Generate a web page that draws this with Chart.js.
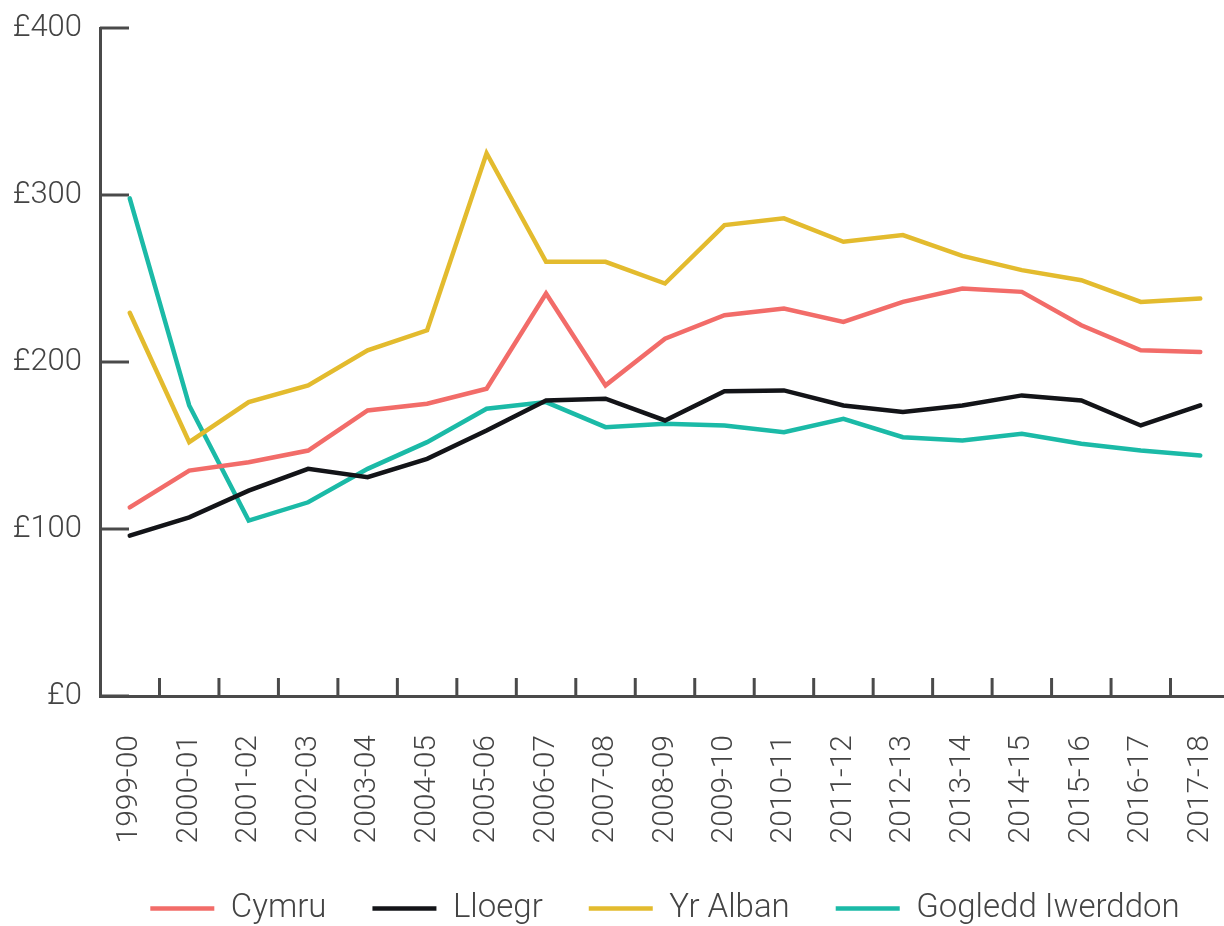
<!DOCTYPE html>
<html>
<head>
<meta charset="utf-8">
<script src="https://cdn.jsdelivr.net/npm/chart.js@4/dist/chart.umd.min.js"></script>
<style>
    html, body {
        margin: 0;
        padding: 0;
        background: #fff;
        overflow: hidden;
    }
</style>
</head>
<body>
<canvas id="chart" width="1230" height="935"></canvas>
<script>
    const categories = [
        '1999-00', '2000-01', '2001-02', '2002-03', '2003-04', '2004-05', '2005-06',
        '2006-07', '2007-08', '2008-09', '2009-10', '2010-11', '2011-12', '2012-13',
        '2013-14', '2014-15', '2015-16', '2016-17', '2017-18',
    ];

    const cymru = [113, 135, 140, 147, 171, 175, 184, 241, 186, 214, 228, 232, 224, 236, 244, 242, 222, 207, 206];
    const lloegr = [96, 107, 123, 136, 131, 142, 159, 177, 178, 165, 182.5, 183, 174, 170, 174, 180, 177, 162, 174];
    const yrAlban = [229.5, 152, 176, 186, 207, 219, 325, 260, 260, 247, 282, 286, 272, 276, 263.5, 255, 249, 236, 238];
    const gogleddIwerddon = [298, 174, 105, 116, 136, 152, 172, 176, 161, 163, 162, 158, 166, 155, 153, 157, 151, 147, 144];

    const yTicks = [0, 100, 200, 300, 400];

    const axisColor = '#4a4a4a';
    const textColor = '#444';
    const fontFamily = 'Roboto, "Open Sans", "Liberation Sans", sans-serif';

    // short tick marks drawn inward from both axes
    const axisTicks = {
        id: 'axisTicks',
        beforeDatasetsDraw(chart) {
            const {ctx, chartArea, scales} = chart;
            const x = scales.x;
            const y = scales.y;

            ctx.save();
            ctx.strokeStyle = axisColor;
            ctx.lineWidth = 3;

            yTicks.forEach((value) => {
                const py = y.getPixelForValue(value);
                ctx.beginPath();
                ctx.moveTo(chartArea.left, py);
                ctx.lineTo(chartArea.left + 29, py);
                ctx.stroke();
            });

            for (let i = 1; i < categories.length; i++) {
                const px = (x.getPixelForValue(i - 1) + x.getPixelForValue(i)) / 2;
                ctx.beginPath();
                ctx.moveTo(px, chartArea.bottom);
                ctx.lineTo(px, chartArea.bottom - 18);
                ctx.stroke();
            }

            ctx.restore();
        },
    };

    function series(label, data, color) {
        return {
            label,
            data,
            borderColor: color,
            backgroundColor: color,
            borderWidth: 4.5,
            borderCapStyle: 'round',
            pointRadius: 0,
            pointHoverRadius: 0,
            tension: 0,
        };
    }

    new Chart(document.getElementById('chart'), {
        type: 'line',
        data: {
            labels: categories,
            datasets: [
                series('Cymru', cymru, '#f26c69'),
                series('Lloegr', lloegr, '#131418'),
                series('Yr Alban', yrAlban, '#e3bb2e'),
                series('Gogledd Iwerddon', gogleddIwerddon, '#1bbaa7'),
            ],
        },
        options: {
            responsive: false,
            animation: false,
            layout: {
                padding: {top: 28, left: 0, right: 0, bottom: 0},
            },
            scales: {
                x: {
                    offset: true,
                    grid: {display: false, drawTicks: false},
                    border: {display: true, color: axisColor, width: 3},
                    ticks: {
                        autoSkip: false,
                        minRotation: 90,
                        maxRotation: 90,
                        padding: 39,
                        color: textColor,
                        font: {family: fontFamily, size: 30, weight: 300},
                    },
                    afterFit(scale) {
                        scale.height = 150;
                        scale.paddingLeft = 0;
                        scale.paddingRight = 0;
                    },
                },
                y: {
                    min: 0,
                    max: 400,
                    grid: {display: false, drawTicks: false},
                    border: {display: true, color: axisColor, width: 3},
                    ticks: {
                        stepSize: 100,
                        padding: 18,
                        color: textColor,
                        font: {family: fontFamily, size: 31, weight: 300},
                        callback: (value) => '£' + value,
                    },
                    afterFit(scale) {
                        scale.width = 100;
                        scale.paddingTop = 0;
                        scale.paddingBottom = 0;
                    },
                },
            },
            plugins: {
                legend: {
                    position: 'bottom',
                    fullSize: false,
                    labels: {
                        usePointStyle: true,
                        pointStyle: 'line',
                        pointStyleWidth: 64,
                        padding: 46,
                        color: textColor,
                        font: {family: fontFamily, size: 33, weight: 300},
                    },
                },
                tooltip: {enabled: false},
            },
        },
        plugins: [axisTicks],
    });
</script>
</body>
</html>
